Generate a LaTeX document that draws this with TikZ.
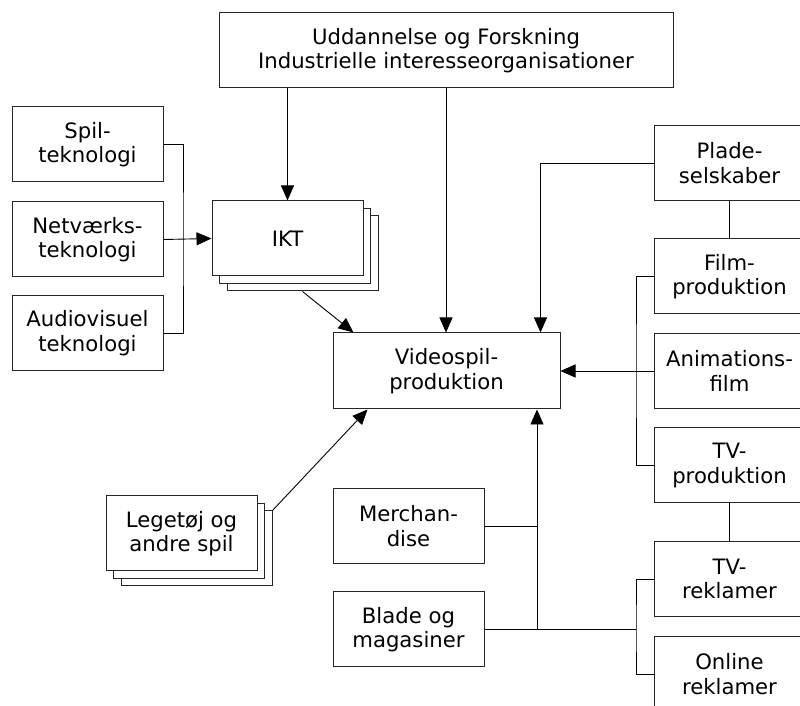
\documentclass[tikz,border=0pt]{standalone}
\usepackage{fontspec}
\setmainfont{DejaVu Sans}
\usetikzlibrary{arrows.meta,calc}
\tikzset{
  >={Triangle[length=7.5pt,width=6.5pt]},
  box/.style={draw=black!85,line width=0.5pt,fill=white,minimum width=75.5pt,minimum height=37.5pt,inner sep=1pt,align=center,font=\fontsize{10.6}{12.2}\selectfont},
  wbox/.style={box,minimum width=227pt},
  vbox/.style={box,minimum width=113.5pt,minimum height=38pt},
  arr/.style={->,line width=0.45pt},
  ln/.style={line width=0.45pt},
}
\begin{document}
\begin{tikzpicture}[x=0.5pt,y=-0.5pt]
\useasboundingbox (0,0) rectangle (800,706);
% sources
\node[wbox] (top) at (446,50.5) {Uddannelse og Forskning\\Industrielle interesseorganisationer};
\node[box] (spil) at (87.5,144.5) {Spil-\\teknologi};
\node[box] (netv) at (87.5,239.5) {Netværks-\\teknologi};
\node[box] (audio) at (87.5,333) {Audiovisuel\\teknologi};
\node[box] (ikt3) at (302.5,253.5) {};
\node[box] (ikt2) at (295,246) {};
\node[box] (ikt) at (287.5,238.5) {IKT};
\node[vbox] (vs) at (446.5,371) {Videospil-\\produktion};
\node[box] (leg3) at (196.5,548.5) {};
\node[box] (leg2) at (189,541) {};
\node[box] (leg) at (181.5,533.5) {Legetøj og\\andre spil};
\node[box] (merch) at (408.5,526) {Merchan-\\dise};
\node[box] (blade) at (408.5,629.5) {Blade og\\magasiner};
% right column
\node[box] (plade) at (729.5,163) {Plade-\\selskaber};
\node[box] (film) at (729.5,276.5) {Film-\\produktion};
\node[box] (anim) at (729.5,371) {Animations-\\film};
\node[box] (tvp) at (729.5,465.5) {TV-\\produktion};
\node[box] (tvr) at (729.5,579) {TV-\\reklamer};
\node[box] (online) at (729.5,674) {Online\\reklamer};
\coordinate (lb) at (183,239.5);
\coordinate (rb) at (636,371);
\coordinate (rb2) at (636,629.5);
\coordinate (mb) at (537,629.5);
% connectors
\draw[arr] (top.south -| ikt.north) -- (ikt.north);
\draw[arr] (top.south) -- (top.south |- vs.north);
\draw[ln] (spil.east) -| (lb) |- (audio.east);
\draw[arr] (netv.east) -- (ikt.west);
\draw[arr] (ikt3.south) -- ($(vs.north west)+(21,0)$);
\draw[arr] (leg3.north east) -- ($(vs.south west)+(35,0)$);
\draw[arr] (plade.west) -| ($(vs.north east)+(-20,0)$);
\draw[ln] (plade) -- (film);
\draw[ln] (film.west) -| (rb) |- (tvp.west);
\draw[arr] (anim.west) -- (vs.east);
\draw[ln] (tvp) -- (tvr);
\draw[ln] (tvr.west) -| (rb2) |- (online.west);
\draw[ln] (blade.east) -- (rb2);
\draw[ln] (merch.east) -- (merch.east -| mb);
\draw[arr] (mb) -- (mb |- vs.south);
\end{tikzpicture}
\end{document}
